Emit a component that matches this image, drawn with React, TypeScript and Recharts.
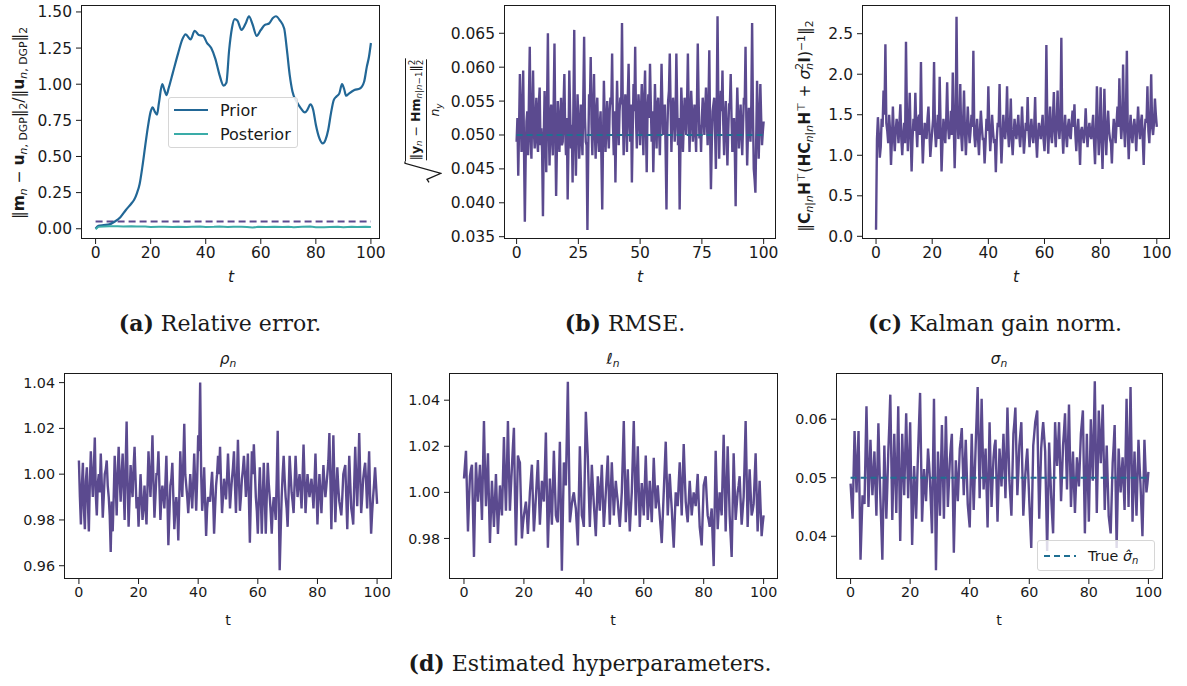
import React from 'react';
import { LineChart, Line, XAxis, YAxis } from 'recharts';

// ---- data ----
// noisy series: sampled values at t = 0, 2/3, 4/3, ... and the in-between samples
const FINE_STEPS = 301;
const tFine = Array.from({ length: FINE_STEPS }, (_, i) => (i * 100) / (FINE_STEPS - 1));
const TRUE_SIGMA = 0.05;
const T_START = 0;
const T_END = 100;

const priorT = [0, 1, 3, 5, 7, 9, 11, 13, 14, 15, 16, 17, 18, 19, 20, 20.7, 21.5, 22.3, 23, 24.2, 25, 25.8, 26.5, 28, 30, 31.5, 32.7, 34.5, 36, 37.5, 39, 40.5, 42, 43.5, 45, 46.5, 47.5, 48.5, 49.5, 50.5, 51.5, 53, 54.5, 55.7, 57, 58.5, 60, 61.5, 63, 64.5, 65.5, 67, 68.5, 69.5, 70.5, 71.5, 73, 74.5, 76, 77, 78, 79, 80, 81.3, 82.5, 83.5, 84.5, 85.5, 86.5, 87.5, 88.5, 89.5, 90.3, 91, 92, 94, 96, 97.5, 98.5, 99.3, 100];
const priorErr = [0.0, 0.02, 0.025, 0.03, 0.05, 0.08, 0.13, 0.175, 0.2, 0.245, 0.31, 0.43, 0.57, 0.705, 0.81, 0.84, 0.81, 0.79, 0.87, 1.0, 0.96, 0.925, 0.97, 1.075, 1.215, 1.31, 1.345, 1.31, 1.37, 1.34, 1.335, 1.285, 1.25, 1.175, 1.065, 0.99, 1.01, 1.235, 1.385, 1.45, 1.44, 1.375, 1.42, 1.47, 1.415, 1.335, 1.375, 1.41, 1.42, 1.46, 1.47, 1.44, 1.385, 1.235, 1.065, 0.95, 0.88, 0.835, 0.805, 0.825, 0.86, 0.825, 0.72, 0.625, 0.59, 0.615, 0.685, 0.8, 0.89, 0.915, 0.935, 1.0, 0.965, 0.92, 0.935, 0.96, 0.97, 1.015, 1.12, 1.19, 1.285];

const postT = [0, 1, 3, 5, 8, 10, 13, 15, 18, 20, 23, 25, 28, 30, 33, 35, 38, 40, 43, 45, 48, 50, 53, 55, 57, 59, 62, 65, 68, 70, 72, 75, 78, 80, 83, 85, 88, 90, 93, 95, 98, 100];
const postErr = [-0.003, 0.013, 0.016, 0.018, 0.017, 0.016, 0.017, 0.015, 0.016, 0.012, 0.014, 0.013, 0.012, 0.014, 0.012, 0.013, 0.015, 0.012, 0.013, 0.015, 0.012, 0.014, 0.013, 0.012, 0.008, 0.013, 0.012, 0.014, 0.012, 0.013, 0.01, 0.014, 0.016, 0.011, 0.01, 0.012, 0.013, 0.011, 0.013, 0.012, 0.013, 0.012];

const rmse = [
  0.049, 0.044, 0.059, 0.0475, 0.0595, 0.0372, 0.052, 0.047, 0.063, 0.0465,
  0.0595, 0.048, 0.0555, 0.0475, 0.057, 0.051, 0.038, 0.0565, 0.0445, 0.065,
  0.0455, 0.0545, 0.047, 0.0635, 0.041, 0.055, 0.0475, 0.0555, 0.049, 0.059,
  0.047, 0.0405, 0.0595, 0.048, 0.043, 0.0655, 0.044, 0.056, 0.0465, 0.0545,
  0.047, 0.0645, 0.049, 0.036, 0.056, 0.0615, 0.047, 0.059, 0.0465, 0.0555,
  0.0475, 0.0535, 0.039, 0.058, 0.0475, 0.055, 0.048, 0.0555, 0.062, 0.047,
  0.043, 0.058, 0.0485, 0.0555, 0.0665, 0.047, 0.056, 0.0475, 0.0605, 0.049,
  0.043, 0.0575, 0.063, 0.048, 0.056, 0.0485, 0.0575, 0.047, 0.0595, 0.0445,
  0.056, 0.0605, 0.049, 0.0445, 0.0575, 0.048, 0.0555, 0.047, 0.0605, 0.05,
  0.0545, 0.039, 0.055, 0.062, 0.0475, 0.0555, 0.049, 0.062, 0.0485, 0.039,
  0.057, 0.0475, 0.0555, 0.05, 0.062, 0.0475, 0.0565, 0.049, 0.0545, 0.0475,
  0.0635, 0.0495, 0.0475, 0.0555, 0.05, 0.057, 0.0485, 0.0625, 0.042, 0.0535,
  0.0555, 0.045, 0.0675, 0.0465, 0.0565, 0.0595, 0.047, 0.055, 0.0455, 0.0545,
  0.059, 0.0475, 0.0525, 0.0395, 0.057, 0.048, 0.0545, 0.047, 0.0555, 0.063,
  0.0455, 0.054, 0.049, 0.0665, 0.045, 0.0415, 0.058, 0.0465, 0.0575, 0.0485,
  0.052,
];
const rmseMid = [
  0.0525, 0.051, 0.0545, 0.0505, 0.048, 0.0465, 0.0535, 0.0555, 0.0495, 0.0535,
  0.0505, 0.0525, 0.049, 0.0545, 0.0485, 0.0475, 0.0495, 0.0515, 0.0545, 0.0515,
  0.0525, 0.0495, 0.0545, 0.0505, 0.0485, 0.0515, 0.0525, 0.0485, 0.0545, 0.0505,
  0.0525, 0.0485, 0.0535, 0.0515, 0.0545, 0.0495, 0.0505, 0.0525, 0.0495, 0.0505,
  0.0555, 0.0525, 0.0485, 0.0475, 0.0545, 0.0515, 0.0535, 0.0505, 0.0535, 0.0495,
  0.0515, 0.0465, 0.0495, 0.0525, 0.0515, 0.0505, 0.0535, 0.0545, 0.0515, 0.0535,
  0.0515, 0.0525, 0.0535, 0.0545, 0.0535, 0.0515, 0.0535, 0.0555, 0.0525, 0.0545,
  0.0505, 0.0535, 0.0525, 0.0525, 0.0535, 0.0535, 0.0515, 0.0555, 0.0515, 0.0535,
  0.0525, 0.0545, 0.0535, 0.0505, 0.0525, 0.0545, 0.0505, 0.0535, 0.0545, 0.0525,
  0.0475, 0.0505, 0.0565, 0.0545, 0.0525, 0.0535, 0.0525, 0.0545, 0.0525, 0.0485,
  0.0535, 0.0515, 0.0535, 0.0545, 0.0535, 0.0525, 0.0535, 0.0515, 0.0505, 0.0545,
  0.0555, 0.0515, 0.0525, 0.0535, 0.0535, 0.0525, 0.0545, 0.0505, 0.0485, 0.0545,
  0.0505, 0.0545, 0.0545, 0.0525, 0.0535, 0.0515, 0.0525, 0.0505, 0.0505, 0.0545,
  0.0525, 0.0495, 0.0475, 0.0515, 0.0525, 0.0515, 0.0505, 0.0515, 0.0545, 0.0525,
  0.0505, 0.0515, 0.0545, 0.0535, 0.0435, 0.0495, 0.0525, 0.0515, 0.0525, 0.0505,
];

const gainNorm = [
  0.08, 1.47, 0.97, 1.45, 1.8, 2.37, 1.3, 1.5, 0.88, 1.6,
  1.05, 1.45, 1.15, 1.63, 1.0, 1.4, 2.4, 1.05, 1.77, 0.8,
  1.45, 1.77, 1.1, 1.5, 2.15, 0.9, 1.4, 1.2, 1.6, 0.98,
  1.3, 2.15, 1.1, 1.5, 1.97, 0.8, 1.45, 1.15, 1.9, 1.2,
  1.55, 2.02, 0.84, 2.71, 1.2, 1.88, 1.05, 1.8, 1.0, 1.6,
  1.15, 1.5, 2.29, 1.1, 1.45, 1.0, 1.55, 1.2, 0.9, 1.45,
  1.85, 1.05, 1.5, 1.15, 0.79, 1.4, 1.88, 0.9, 1.5, 1.2,
  1.85, 1.1, 1.7, 1.0, 1.45, 1.2, 1.5, 1.1, 1.6, 1.02,
  1.4, 1.72, 1.1, 1.45, 1.15, 1.72, 0.97, 1.4, 1.2, 1.5,
  1.05, 2.36, 1.02, 1.6, 1.15, 1.78, 1.1, 1.8, 1.2, 2.45,
  1.02, 1.5, 1.1, 1.45, 1.2, 1.55, 1.63, 1.05, 1.45, 0.88,
  1.35, 1.15, 1.58, 1.1, 1.4, 1.2, 1.5, 0.89, 1.85, 1.0,
  1.84, 0.83, 1.82, 1.0, 1.55, 1.2, 0.9, 1.45, 1.15, 1.6,
  1.95, 1.2, 2.12, 1.1, 2.29, 0.95, 1.5, 1.15, 1.45, 1.05,
  1.6, 1.2, 1.5, 0.88, 1.45, 1.85, 1.15, 2.0, 1.25, 1.7,
  1.35,
];
const gainMid = [
  1.2, 1.25, 1.1, 1.35, 1.5, 1.4, 1.15, 1.3, 1.2, 1.25,
  1.3, 1.35, 1.4, 1.2, 1.25, 1.15, 1.5, 1.35, 1.25, 1.2,
  1.3, 1.35, 1.45, 1.25, 1.3, 1.2, 1.25, 1.45, 1.3, 1.15,
  1.45, 1.3, 1.3, 1.2, 1.35, 1.15, 1.3, 1.45, 1.35, 1.3,
  1.25, 1.4, 1.3, 1.5, 1.35, 1.25, 1.4, 1.3, 1.3, 1.35,
  1.3, 1.35, 1.25, 1.3, 1.2, 1.3, 1.35, 1.2, 1.15, 1.3,
  1.35, 1.25, 1.3, 1.2, 1.2, 1.35, 1.25, 1.2, 1.3, 1.4,
  1.3, 1.35, 1.2, 1.25, 1.3, 1.35, 1.25, 1.3, 1.3, 1.2,
  1.3, 1.3, 1.3, 1.25, 1.35, 1.2, 1.25, 1.3, 1.35, 1.2,
  1.3, 1.4, 1.35, 1.25, 1.45, 1.3, 1.4, 1.35, 1.45, 1.3,
  1.3, 1.25, 1.35, 1.25, 1.4, 1.35, 1.25, 1.3, 1.2, 1.3,
  1.25, 1.3, 1.3, 1.3, 1.25, 1.35, 1.15, 1.3, 1.35, 1.3,
  1.2, 1.3, 1.3, 1.35, 1.3, 1.15, 1.25, 1.3, 1.4, 1.35,
  1.45, 1.4, 1.35, 1.5, 1.3, 1.3, 1.25, 1.35, 1.3, 1.35,
  1.35, 1.4, 1.2, 1.3, 1.4, 1.3, 1.45, 1.35, 1.4, 1.5,
];

const rho = [
  1.006, 0.978, 1.005, 0.976, 1.003, 0.975, 1.01, 0.99, 1.016, 0.982,
  1.0, 1.009, 0.981, 1.0, 1.006, 0.99, 0.966, 0.975, 1.008, 0.982,
  1.012, 0.988, 1.009, 0.98, 1.023, 0.977, 1.004, 0.99, 1.012, 0.985,
  0.977, 1.0, 0.98, 0.995, 0.978, 1.01, 0.99, 1.017, 0.981, 1.0,
  1.01, 0.98, 0.995, 0.985, 1.008, 0.969, 0.995, 1.005, 0.976, 0.99,
  0.971, 1.01, 0.99, 1.022, 0.995, 0.983, 1.0, 0.985, 1.009, 0.984,
  1.017, 1.04, 0.984, 1.003, 0.973, 0.99, 0.988, 1.001, 0.974, 0.995,
  1.008, 1.012, 0.983, 0.998, 0.989, 1.009, 0.985, 0.998, 1.01, 0.983,
  1.015, 0.984, 0.998, 1.008, 0.99, 1.009, 0.97, 1.01, 1.013, 0.99,
  0.974, 1.003, 0.974, 1.005, 0.974, 1.005, 0.99, 0.974, 0.99, 0.98,
  1.019, 0.958, 0.99, 1.008, 0.99, 0.977, 1.008, 0.992, 0.983, 1.008,
  0.99, 1.0, 0.985, 1.013, 0.983, 1.0, 0.99, 0.998, 0.985, 1.009,
  0.978, 1.0, 0.983, 1.004, 0.99, 1.0, 1.018, 0.976, 1.017, 0.979,
  1.003, 0.988, 0.982, 1.0, 1.004, 0.976, 1.008, 0.985, 0.978, 1.012,
  0.986, 1.018, 0.983, 0.998, 1.005, 0.985, 1.01, 0.974, 0.99, 1.003,
  0.987,
];
const rhoMid = [
  0.99, 0.995, 0.985, 0.997, 0.988, 0.996, 0.999, 1.002, 0.991, 0.996,
  0.992, 0.996, 0.99, 1.002, 0.995, 0.982, 0.988, 0.99, 0.996, 1.0,
  0.998, 1.0, 0.994, 1.004, 0.996, 0.99, 0.996, 1.003, 0.998, 0.99,
  0.988, 0.99, 0.986, 0.985, 0.994, 1.0, 1.002, 0.997, 0.99, 1.0,
  0.995, 0.99, 0.99, 0.996, 0.99, 0.982, 0.998, 0.99, 0.984, 0.985,
  0.99, 0.998, 1.005, 1.0, 0.99, 0.991, 0.993, 0.996, 0.996, 0.998,
  1.01, 1.0, 0.99, 0.988, 0.985, 0.989, 0.995, 0.99, 0.985, 1.0,
  1.0, 0.996, 0.99, 0.994, 0.998, 0.998, 0.992, 1.003, 0.995, 0.998,
  0.998, 0.99, 1.002, 1.0, 0.998, 0.99, 0.99, 1.0, 1.002, 0.984,
  0.99, 0.99, 0.99, 0.99, 0.99, 0.996, 0.983, 0.985, 0.986, 0.998,
  0.99, 0.975, 1.0, 0.998, 0.985, 0.992, 1.0, 0.988, 0.996, 0.998,
  0.996, 0.993, 0.998, 0.998, 0.992, 0.995, 0.994, 0.992, 0.996, 0.994,
  0.99, 0.992, 0.994, 0.996, 0.995, 1.006, 0.998, 0.996, 0.998, 0.992,
  0.994, 0.985, 0.99, 1.002, 0.99, 0.993, 0.996, 0.982, 0.996, 0.998,
  1.0, 1.0, 0.99, 1.002, 0.996, 0.998, 0.99, 0.983, 0.996, 0.995,
];

const ell = [
  1.006, 1.018, 0.983, 1.007, 1.012, 0.972, 1.013, 0.996, 1.012, 0.988,
  1.031, 0.994, 1.017, 0.978, 1.005, 0.985, 1.008, 0.982, 1.003, 0.99,
  1.024, 0.992, 1.031, 0.992, 1.011, 1.028, 0.977, 1.016, 1.013, 0.98,
  0.99, 0.996, 0.982, 1.0, 1.012, 0.983, 0.998, 1.014, 0.986, 1.005,
  0.996, 1.026, 0.976, 1.006, 0.986, 1.018, 0.99, 0.987, 1.022, 0.966,
  1.013, 1.003, 1.048, 0.987, 0.995, 1.0, 0.993, 0.977, 1.02, 0.99,
  0.985, 1.035, 1.015, 0.985, 1.012, 0.995, 0.981, 1.007, 0.992, 1.012,
  0.985, 1.0, 1.016, 0.986, 1.013, 0.99, 1.005, 0.996, 0.985, 1.0,
  1.031, 0.987, 1.01, 0.983, 1.0, 1.031, 0.99, 1.02, 0.985, 1.004,
  0.99, 1.016, 0.988, 1.005, 0.987, 1.015, 0.993, 1.003, 0.99, 0.978,
  1.0, 1.022, 0.99, 1.008, 0.993, 0.976, 1.0, 0.994, 1.013, 0.99,
  1.021, 0.996, 0.987, 1.005, 0.99, 1.0, 0.994, 1.008, 0.985, 0.977,
  1.003, 1.007, 0.99, 0.985, 0.993, 0.968, 1.018, 0.984, 1.0, 0.99,
  1.025, 0.983, 1.02, 0.99, 0.972, 1.017, 0.988, 1.0, 1.007, 0.986,
  0.998, 1.031, 0.985, 1.01, 0.99, 0.995, 1.017, 0.983, 1.005, 0.981,
  0.99,
];
const ellMid = [
  1.012, 1.0, 0.996, 1.01, 0.992, 0.994, 1.004, 1.004, 1.0, 1.01,
  1.01, 1.006, 0.996, 0.992, 0.995, 0.996, 0.994, 0.992, 0.996, 1.006,
  1.006, 1.01, 1.01, 1.002, 1.02, 1.0, 0.996, 1.014, 0.996, 0.986,
  0.993, 0.99, 0.991, 1.006, 0.997, 0.99, 1.006, 1.0, 0.995, 1.0,
  1.01, 1.0, 0.991, 0.996, 1.002, 1.004, 0.988, 1.004, 0.994, 0.99,
  1.008, 1.025, 1.017, 0.991, 0.998, 0.996, 0.985, 0.998, 1.005, 0.988,
  1.01, 1.025, 1.0, 0.998, 1.003, 0.988, 0.994, 1.0, 1.002, 0.998,
  0.992, 1.008, 1.0, 1.0, 1.002, 0.998, 1.0, 0.99, 0.992, 1.015,
  1.009, 0.998, 0.996, 0.992, 1.015, 1.01, 1.005, 1.002, 0.995, 0.997,
  1.003, 1.002, 0.996, 0.996, 1.001, 1.004, 0.998, 0.996, 0.984, 0.989,
  1.011, 1.006, 0.999, 1.0, 0.984, 0.988, 0.997, 1.004, 1.002, 1.006,
  1.008, 0.991, 0.996, 0.998, 0.995, 0.997, 1.001, 0.996, 0.981, 0.99,
  1.005, 0.998, 0.988, 0.989, 0.98, 0.993, 1.001, 0.992, 0.995, 1.008,
  1.004, 1.001, 1.005, 0.981, 0.994, 1.002, 0.994, 1.003, 0.996, 0.992,
  1.014, 1.008, 0.998, 1.0, 0.992, 1.006, 1.0, 0.994, 0.993, 0.986,
];

const sigma = [
  0.049, 0.043, 0.058, 0.0475, 0.058, 0.036, 0.047, 0.0455, 0.0622, 0.045,
  0.0565, 0.047, 0.0545, 0.0435, 0.0593, 0.0465, 0.036, 0.0555, 0.043, 0.0545,
  0.0642, 0.0428, 0.0575, 0.044, 0.0622, 0.0392, 0.0575, 0.047, 0.061, 0.0465,
  0.0595, 0.0385, 0.052, 0.043, 0.0545, 0.0645, 0.0425, 0.0515, 0.046, 0.055,
  0.0495, 0.0405, 0.0635, 0.0342, 0.0545, 0.0435, 0.059, 0.043, 0.0605, 0.045,
  0.053, 0.0575, 0.0372, 0.053, 0.046, 0.055, 0.0585, 0.047, 0.0565, 0.0455,
  0.0415, 0.0575, 0.0445, 0.0555, 0.0655, 0.0465, 0.0635, 0.048, 0.055, 0.0415,
  0.0595, 0.045, 0.0535, 0.0565, 0.0425, 0.055, 0.0485, 0.0575, 0.0465, 0.062,
  0.0495, 0.0435, 0.0575, 0.062, 0.047, 0.0555, 0.0595, 0.0435, 0.0505, 0.055,
  0.046, 0.038, 0.0555, 0.0595, 0.0615, 0.043, 0.055, 0.0595, 0.0545, 0.0375,
  0.056, 0.047, 0.0405, 0.0595, 0.052, 0.0595, 0.046, 0.0555, 0.061, 0.048,
  0.0625, 0.045, 0.0545, 0.044, 0.0535, 0.0485, 0.0575, 0.0615, 0.0405, 0.0575,
  0.0425, 0.06, 0.0495, 0.0665, 0.044, 0.0615, 0.0525, 0.0625, 0.0445, 0.0555,
  0.0435, 0.0405, 0.0525, 0.059, 0.038, 0.055, 0.0475, 0.0535, 0.0445, 0.0635,
  0.045, 0.0655, 0.0425, 0.0545, 0.0435, 0.0565, 0.049, 0.04, 0.0565, 0.0475,
  0.051,
];
const sigmaMid = [
  0.046, 0.0505, 0.0525, 0.053, 0.047, 0.0415, 0.0465, 0.054, 0.0535, 0.0505,
  0.0515, 0.0505, 0.049, 0.0515, 0.0525, 0.0415, 0.046, 0.049, 0.0485, 0.059,
  0.0535, 0.05, 0.051, 0.053, 0.0505, 0.0485, 0.052, 0.054, 0.0535, 0.053,
  0.049, 0.0455, 0.0475, 0.049, 0.0595, 0.0535, 0.047, 0.0485, 0.0505, 0.0525,
  0.045, 0.052, 0.049, 0.0445, 0.049, 0.0515, 0.051, 0.0515, 0.0525, 0.049,
  0.0555, 0.0475, 0.045, 0.0495, 0.0505, 0.0565, 0.0525, 0.052, 0.051, 0.0435,
  0.0495, 0.051, 0.05, 0.0605, 0.056, 0.055, 0.0555, 0.0515, 0.048, 0.0505,
  0.052, 0.0495, 0.0555, 0.0495, 0.0485, 0.052, 0.053, 0.052, 0.054, 0.0555,
  0.0465, 0.0505, 0.0595, 0.0545, 0.051, 0.0575, 0.0515, 0.047, 0.053, 0.0505,
  0.042, 0.047, 0.0575, 0.0605, 0.052, 0.049, 0.0575, 0.057, 0.046, 0.0465,
  0.0515, 0.0435, 0.05, 0.0555, 0.0555, 0.0525, 0.0505, 0.058, 0.0545, 0.0555,
  0.0535, 0.0495, 0.049, 0.0485, 0.051, 0.053, 0.0595, 0.051, 0.049, 0.05,
  0.051, 0.0545, 0.058, 0.055, 0.0525, 0.057, 0.0575, 0.0535, 0.05, 0.0495,
  0.042, 0.0465, 0.0555, 0.0485, 0.0465, 0.0515, 0.0505, 0.049, 0.054, 0.054,
  0.0555, 0.054, 0.0485, 0.049, 0.05, 0.0525, 0.0445, 0.048, 0.052, 0.049,
];

const ticks20 = [0, 20, 40, 60, 80, 100];
const ticks25 = [0, 25, 50, 75, 100];
const errTicks = [0, 0.25, 0.5, 0.75, 1.0, 1.25, 1.5];
const rmseTicks = [0.035, 0.04, 0.045, 0.05, 0.055, 0.06, 0.065];
const gainTicks = [0, 0.5, 1.0, 1.5, 2.0, 2.5];
const rhoTicks = [0.96, 0.98, 1.0, 1.02, 1.04];
const ellTicks = [0.98, 1.0, 1.02, 1.04];
const sigmaTicks = [0.04, 0.05, 0.06];

// ---- styles ----
const SANS = '"DejaVu Sans", sans-serif';
const SERIF = '"DejaVu Serif", serif';
const INK = '#1a1a1a';
const PURPLE = '#5b4a8f';
const PRIOR = '#226796';
const POSTERIOR = '#3aaca8';
const TRUE_DASH = '#1f6f92';

const TOP_FS = 15.5;
const BOT_FS = 14.3;

const Y_W = 70;
const X_H = 40;
const PAD = 5;

type Box = { left: number; top: number; width: number; height: number };

// main samples on even grid points, in-between samples on odd ones
const weave = (main: number[], mid: number[]) =>
  main.flatMap((v, i) => (i < mid.length ? [v, mid[i]] : [v]));

function Panel(props: {
  box: Box;
  xDomain: [number, number];
  yDomain: [number, number];
  xTicks: number[];
  yTicks: number[];
  fmt: (v: number) => string;
  fs: number;
  data?: any[];
  children: React.ReactNode;
}) {
  const { box, xDomain, yDomain, xTicks, yTicks, fmt, fs, data, children } = props;
  const tickStyle = { fill: INK, fontSize: fs, fontFamily: SANS };
  return (
    <>
      <div style={{ position: 'absolute', left: box.left - Y_W, top: box.top - PAD }}>
        <LineChart
          width={box.width + Y_W + PAD}
          height={box.height + PAD + X_H}
          data={data}
          margin={{ top: PAD, right: PAD, left: 0, bottom: 0 }}
        >
          <XAxis
            type="number"
            dataKey="t"
            domain={xDomain}
            allowDataOverflow
            ticks={xTicks}
            interval={0}
            height={X_H}
            axisLine={false}
            tickSize={5}
            tickMargin={3}
            tickLine={{ stroke: INK }}
            tick={tickStyle}
          />
          <YAxis
            type="number"
            domain={yDomain}
            allowDataOverflow
            ticks={yTicks}
            interval={0}
            width={Y_W}
            axisLine={false}
            tickSize={5}
            tickMargin={4}
            tickLine={{ stroke: INK }}
            tick={tickStyle}
            tickFormatter={fmt}
          />
          {children}
        </LineChart>
      </div>
      <div
        style={{
          position: 'absolute',
          left: box.left,
          top: box.top,
          width: box.width,
          height: box.height,
          border: `1px solid ${INK}`,
          boxSizing: 'border-box',
          pointerEvents: 'none',
        }}
      />
    </>
  );
}

const Sub = ({ children }: { children: React.ReactNode }) => (
  <span style={{ fontSize: '0.7em', position: 'relative', top: '0.3em' }}>{children}</span>
);
const Sup = ({ children }: { children: React.ReactNode }) => (
  <span style={{ fontSize: '0.7em', position: 'relative', top: '-0.45em' }}>{children}</span>
);
const SupSub = ({ sup, sub }: { sup: React.ReactNode; sub: React.ReactNode }) => (
  <span
    style={{
      display: 'inline-flex',
      flexDirection: 'column',
      fontSize: '0.7em',
      lineHeight: 0.95,
      verticalAlign: 'middle',
    }}
  >
    <span>{sup}</span>
    <span>{sub}</span>
  </span>
);

function At(props: {
  x: number;
  y: number;
  rotate?: boolean;
  start?: boolean;
  style?: React.CSSProperties;
  children: React.ReactNode;
}) {
  const shift = props.start ? 'translate(0, -50%)' : 'translate(-50%, -50%)';
  return (
    <div
      style={{
        position: 'absolute',
        left: props.x,
        top: props.y,
        transform: `${shift}${props.rotate ? ' rotate(-90deg)' : ''}`,
        whiteSpace: 'nowrap',
        fontFamily: SANS,
        fontSize: TOP_FS,
        color: INK,
        lineHeight: 1,
        ...props.style,
      }}
    >
      {props.children}
    </div>
  );
}

const Caption = ({ x, y, tag, text }: { x: number; y: number; tag: string; text: string }) => (
  <At x={x} y={y} style={{ fontFamily: SERIF, fontSize: 22 }}>
    <b>{tag}</b> {text}
  </At>
);

export default function App() {
  const priorData = priorT.map((t, i) => ({ t, v: priorErr[i] }));
  const postData = postT.map((t, i) => ({ t, v: postErr[i] }));
  const refData = [
    { t: T_START, v: TRUE_SIGMA },
    { t: T_END, v: TRUE_SIGMA },
  ];
  const rows = (main: number[], mid: number[], withRef = false) =>
    weave(main, mid).map((v, i) => (withRef ? { t: tFine[i], v, ref: TRUE_SIGMA } : { t: tFine[i], v }));
  const rmseData = rows(rmse, rmseMid, true);
  const gainData = rows(gainNorm, gainMid);
  const rhoData = rows(rho, rhoMid);
  const ellData = rows(ell, ellMid);
  const sigmaData = rows(sigma, sigmaMid, true);

  const noisy = (
    <Line
      dataKey="v"
      type="linear"
      stroke={PURPLE}
      strokeWidth={2.4}
      dot={false}
      activeDot={false}
      isAnimationActive={false}
    />
  );
  const trueLine = (
    <Line
      dataKey="ref"
      type="linear"
      stroke={TRUE_DASH}
      strokeWidth={2}
      strokeDasharray="6 4"
      dot={false}
      activeDot={false}
      isAnimationActive={false}
    />
  );

  return (
    <div style={{ position: 'absolute', left: 0, top: 0, width: 1187, height: 686, background: '#fff', overflow: 'hidden' }}>
      {/* (a) relative error */}
      <Panel
        box={{ left: 81, top: 5, width: 299, height: 234 }}
        xDomain={[-5.3, 103.3]}
        yDomain={[-0.071, 1.548]}
        xTicks={ticks20}
        yTicks={errTicks}
        fmt={(v) => v.toFixed(2)}
        fs={TOP_FS}
      >
        <Line data={refData} dataKey="v" stroke={PURPLE} strokeWidth={2} strokeDasharray="7 4" dot={false} activeDot={false} isAnimationActive={false} />
        <Line data={priorData} dataKey="v" type="monotone" stroke={PRIOR} strokeWidth={2.2} dot={false} activeDot={false} isAnimationActive={false} />
        <Line data={postData} dataKey="v" type="linear" stroke={POSTERIOR} strokeWidth={2} dot={false} activeDot={false} isAnimationActive={false} />
      </Panel>
      <div
        style={{
          position: 'absolute',
          left: 168,
          top: 97,
          width: 130,
          height: 51,
          border: '1px solid #d6d6d6',
          borderRadius: 3,
          background: 'rgba(255,255,255,0.85)',
          boxSizing: 'border-box',
        }}
      />
      <svg style={{ position: 'absolute', left: 0, top: 0 }} width={400} height={200}>
        <line x1={174} x2={208} y1={110} y2={110} stroke={PRIOR} strokeWidth={2.2} />
        <line x1={174} x2={208} y1={134} y2={134} stroke={POSTERIOR} strokeWidth={2} />
      </svg>
      <At x={220} y={111} start style={{ fontSize: 16 }}>Prior</At>
      <At x={220} y={135} start style={{ fontSize: 16 }}>Posterior</At>
      <At x={20} y={123} rotate>
        ‖<b>m</b>
        <Sub>
          <i>n</i>
        </Sub>{' '}
        − <b>u</b>
        <Sub>
          <i>n</i>, DGP
        </Sub>
        ‖<Sub>2</Sub>/‖<b>u</b>
        <Sub>
          <i>n</i>, DGP
        </Sub>
        ‖<Sub>2</Sub>
      </At>
      <At x={231} y={278} style={{ fontStyle: 'italic' }}>t</At>

      {/* (b) RMSE */}
      <Panel
        box={{ left: 504, top: 5, width: 272, height: 234 }}
        xDomain={[-5.1, 105]}
        yDomain={[0.03466, 0.06917]}
        xTicks={ticks25}
        yTicks={rmseTicks}
        fmt={(v) => v.toFixed(3)}
        fs={TOP_FS}
        data={rmseData}
      >
        {noisy}
        {trueLine}
      </Panel>
      <At x={423} y={121} rotate>
        <div style={{ display: 'flex', alignItems: 'stretch' }}>
          <svg width={22} height={38} viewBox="0 0 22 38" style={{ display: 'block' }}>
            <path d="M1 25 L4 23 L10 37 L20 1 L22 1" fill="none" stroke={INK} strokeWidth={1.3} />
          </svg>
          <div
            style={{
              borderTop: `1.3px solid ${INK}`,
              marginTop: 0.5,
              display: 'flex',
              flexDirection: 'column',
              alignItems: 'center',
              fontSize: 12.5,
              padding: '2px 1px 0',
            }}
          >
            <div>
              ‖<b>y</b>
              <Sub>
                <i>n</i>
              </Sub>{' '}
              − <b>Hm</b>
              <Sub>
                <i>n</i>|<i>n</i>−1
              </Sub>
              ‖<SupSub sup="2" sub="2" />
            </div>
            <div style={{ borderTop: `1px solid ${INK}`, alignSelf: 'stretch', margin: '2px 0 2px' }} />
            <div>
              <i>n</i>
              <Sub>
                <i>y</i>
              </Sub>
            </div>
          </div>
        </div>
      </At>
      <At x={640} y={278} style={{ fontStyle: 'italic' }}>t</At>

      {/* (c) Kalman gain norm */}
      <Panel
        box={{ left: 862, top: 5, width: 308, height: 234 }}
        xDomain={[-5, 104.7]}
        yDomain={[-0.033, 2.854]}
        xTicks={ticks20}
        yTicks={gainTicks}
        fmt={(v) => v.toFixed(1)}
        fs={TOP_FS}
        data={gainData}
      >
        {noisy}
      </Panel>
      <At x={805} y={126} rotate>
        ‖<b>C</b>
        <Sub>
          <i>n</i>|<i>n</i>
        </Sub>
        <b>H</b>
        <Sup>⊤</Sup>(<b>HC</b>
        <Sub>
          <i>n</i>|<i>n</i>
        </Sub>
        <b>H</b>
        <Sup>⊤</Sup> + <i>σ</i>
        <SupSub sup="2" sub={<i>n</i>} />
        <b>I</b>)<Sup>−1</Sup>‖<Sub>2</Sub>
      </At>
      <At x={1016} y={278} style={{ fontStyle: 'italic' }}>t</At>

      {/* captions, top row */}
      <Caption x={220} y={323} tag="(a)" text="Relative error." />
      <Caption x={625} y={323} tag="(b)" text="RMSE." />
      <Caption x={995} y={323} tag="(c)" text="Kalman gain norm." />

      {/* (d) hyperparameters */}
      <Panel
        box={{ left: 64, top: 373, width: 328, height: 206 }}
        xDomain={[-5, 105]}
        yDomain={[0.9542, 1.0442]}
        xTicks={ticks20}
        yTicks={rhoTicks}
        fmt={(v) => v.toFixed(2)}
        fs={BOT_FS}
        data={rhoData}
      >
        {noisy}
      </Panel>
      <At x={228} y={360} style={{ fontSize: BOT_FS + 1 }}>
        <i>ρ</i>
        <Sub>
          <i>n</i>
        </Sub>
      </At>
      <At x={228} y={620} style={{ fontSize: BOT_FS }}>t</At>

      <Panel
        box={{ left: 449, top: 373, width: 329, height: 206 }}
        xDomain={[-5, 104.8]}
        yDomain={[0.9624, 1.0518]}
        xTicks={ticks20}
        yTicks={ellTicks}
        fmt={(v) => v.toFixed(2)}
        fs={BOT_FS}
        data={ellData}
      >
        {noisy}
      </Panel>
      <At x={613} y={360} style={{ fontSize: BOT_FS + 1 }}>
        <i>ℓ</i>
        <Sub>
          <i>n</i>
        </Sub>
      </At>
      <At x={613} y={620} style={{ fontSize: BOT_FS }}>t</At>

      <Panel
        box={{ left: 836, top: 373, width: 327, height: 206 }}
        xDomain={[-4.9, 104.9]}
        yDomain={[0.0327, 0.0679]}
        xTicks={ticks20}
        yTicks={sigmaTicks}
        fmt={(v) => v.toFixed(2)}
        fs={BOT_FS}
        data={sigmaData}
      >
        {noisy}
        {trueLine}
      </Panel>
      <div
        style={{
          position: 'absolute',
          left: 1037,
          top: 540,
          width: 118,
          height: 31,
          border: '1px solid #d6d6d6',
          borderRadius: 3,
          background: 'rgba(255,255,255,0.8)',
          boxSizing: 'border-box',
        }}
      />
      <svg style={{ position: 'absolute', left: 1037, top: 540 }} width={118} height={31}>
        <line x1={7} x2={39} y1={16} y2={16} stroke={TRUE_DASH} strokeWidth={2} strokeDasharray="6 4" />
      </svg>
      <At x={1088} y={556} start style={{ fontSize: BOT_FS }}>
        True <i>σ̂</i>
        <Sub>
          <i>n</i>
        </Sub>
      </At>
      <At x={999} y={360} style={{ fontSize: BOT_FS + 1 }}>
        <i>σ</i>
        <Sub>
          <i>n</i>
        </Sub>
      </At>
      <At x={999} y={620} style={{ fontSize: BOT_FS }}>t</At>

      <Caption x={590} y={663} tag="(d)" text="Estimated hyperparameters." />
    </div>
  );
}
